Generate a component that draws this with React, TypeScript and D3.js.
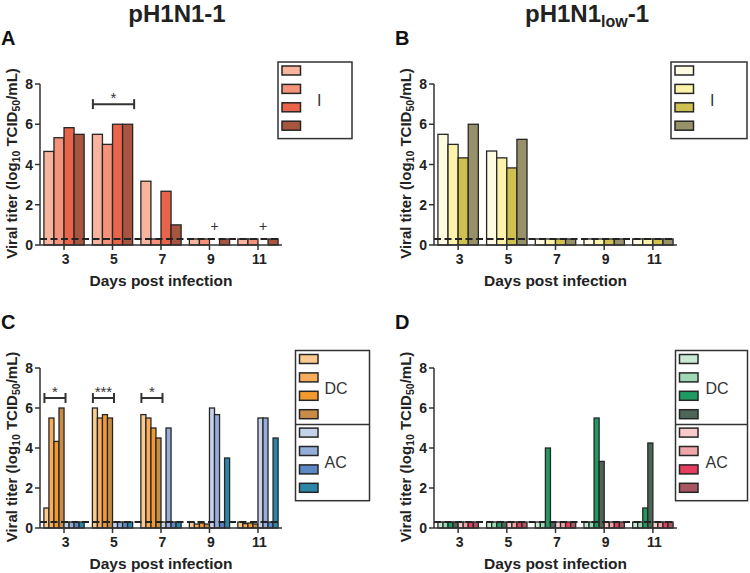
import React from "react";
import * as d3 from "d3";

const FONT = "'Liberation Sans', Arial, Helvetica, sans-serif";

const days = [3, 5, 7, 9, 11];
const yTicks = [0, 2, 4, 6, 8];
const LOD = 0.3;

// A: pH1N1-1, inoculated ferrets (null = no sample)
const aFerret1 = [4.65, 5.5, 3.17, 0.3, 0.3];
const aFerret2 = [5.33, 5.0, 0.3, 0.3, 0.3];
const aFerret3 = [5.83, 6.0, 2.67, null, null];
const aFerret4 = [5.5, 6.0, 1.0, 0.3, 0.3];
const aColors = ["#f8b49c", "#f4937a", "#e8644b", "#a8553f"];

// B: pH1N1low-1, inoculated ferrets
const bFerret1 = [5.5, 4.67, 0.3, 0.3, 0.3];
const bFerret2 = [5.0, 4.33, 0.3, 0.3, 0.3];
const bFerret3 = [4.33, 3.83, 0.3, 0.3, 0.3];
const bFerret4 = [6.0, 5.25, 0.3, 0.3, 0.3];
const bColors = ["#fefbe3", "#fdf3aa", "#cfc150", "#979169"];

// C: pH1N1-1, direct contacts then aerosol contacts
const cDC1 = [1.0, 6.0, 5.67, 0.3, 0.3];
const cDC2 = [5.5, 5.5, 5.5, 0.2, 0.22];
const cDC3 = [4.33, 5.67, 5.0, 0.25, 0.25];
const cDC4 = [6.0, 5.5, 4.5, 0.2, 0.2];
const cAC1 = [0.3, 0.3, 0.3, 6.0, 5.5];
const cAC2 = [0.3, 0.3, 5.0, 5.67, 5.5];
const cAC3 = [0.3, 0.3, 0.3, 0.3, 0.3];
const cAC4 = [0.3, 0.3, 0.3, 3.5, 4.5];
const cColors = ["#fcca8f", "#f9ac5c", "#f39a2e", "#c98b46", "#c6d2ea", "#94aed9", "#5c88c6", "#2b86a7"];

// D: pH1N1low-1, direct contacts then aerosol contacts
const dDC1 = [0.3, 0.3, 0.3, 0.3, 0.3];
const dDC2 = [0.3, 0.3, 0.3, 0.3, 0.3];
const dDC3 = [0.3, 0.3, 4.0, 5.5, 1.0];
const dDC4 = [0.3, 0.3, 0.3, 3.33, 4.25];
const dAC1 = [0.3, 0.3, 0.3, 0.3, 0.3];
const dAC2 = [0.3, 0.3, 0.3, 0.3, 0.3];
const dAC3 = [0.3, 0.3, 0.3, 0.3, 0.3];
const dAC4 = [0.3, 0.3, 0.3, 0.3, 0.3];
const dColors = ["#c8e9d6", "#9fd8b6", "#1f9a60", "#4d6657", "#f8cacb", "#efa5a9", "#e63e5e", "#a65562"];

const aBrackets = [{ day: 5, label: "*" }];
const cBrackets = [
  { day: 3, label: "*" },
  { day: 5, label: "***" },
  { day: 7, label: "*" },
];
const aDeaths = [9, 11];

type Bracket = { day: number; label: string };

const Panel = ({
  left, right, top, bottom, series, colors, letter, brackets = [], bracketY = 7, deaths = [],
}: any) => {
  const x = d3.scaleBand<number>().domain(days).range([left + 1, right - 1]).paddingInner(0.17).paddingOuter(0.06);
  const y = d3.scaleLinear().domain([0, 8]).range([bottom, top]);
  const inner = d3.scaleBand<number>().domain(d3.range(series.length)).range([0, x.bandwidth()]);
  const midY = (top + bottom) / 2 - 1;

  return (
    <g>
      <text x={left - 39} y={top - 39} fontSize={20} fontWeight="bold" fill="#111">{letter}</text>
      {/* bars */}
      {series.map((s: (number | null)[], si: number) =>
        s.map((v, di) =>
          v == null ? null : (
            <rect
              key={`${si}-${di}`}
              x={(x(days[di]) ?? 0) + (inner(si) ?? 0)}
              y={y(v)}
              width={inner.bandwidth()}
              height={y(0) - y(v)}
              fill={colors[si]}
              stroke="#262626"
              strokeWidth={1.3}
            />
          )
        )
      )}
      {/* detection limit */}
      <line x1={left} x2={right - 3} y1={y(LOD)} y2={y(LOD)} stroke="#222" strokeWidth={2} strokeDasharray="7,3.5" />
      {/* axes */}
      <line x1={left} x2={left} y1={top} y2={bottom} stroke="#333" strokeWidth={1.5} />
      <line x1={left} x2={right} y1={bottom} y2={bottom} stroke="#333" strokeWidth={1.5} />
      {yTicks.map((t) => (
        <g key={t}>
          <line x1={left - 5} x2={left} y1={y(t)} y2={y(t)} stroke="#333" strokeWidth={1.5} />
          <text x={left - 7} y={y(t) + 5} textAnchor="end" fontSize={14} fontWeight="bold" fill="#222">{t}</text>
        </g>
      ))}
      {days.map((d) => {
        const cx = (x(d) ?? 0) + x.bandwidth() / 2;
        return (
          <g key={d}>
            <line x1={cx} x2={cx} y1={bottom} y2={bottom + 5} stroke="#333" strokeWidth={1.5} />
            <text x={cx + 1.5} y={bottom + 19} textAnchor="middle" fontSize={14} fontWeight="bold" fill="#222">{d}</text>
          </g>
        );
      })}
      <text x={(left + right) / 2} y={bottom + 41} textAnchor="middle" fontSize={15.5} fontWeight="bold" fill="#222">
        Days post infection
      </text>
      <text
        transform={`translate(${left - 23},${midY}) rotate(-90)`}
        textAnchor="middle"
        fontSize={15}
        fontWeight="bold"
        fill="#222"
      >
        Viral titer (log<tspan fontSize={10.5} dy={3}>10</tspan>
        <tspan dy={-3}> TCID</tspan>
        <tspan fontSize={10.5} dy={3}>50</tspan>
        <tspan dy={-3}>/mL)</tspan>
      </text>
      {/* significance brackets */}
      {brackets.map((b: Bracket) => {
        const x0 = (x(b.day) ?? 0) + (inner(0) ?? 0) + 0.5;
        const x1 = (x(b.day) ?? 0) + (inner(3) ?? 0) + inner.bandwidth() + 1.5;
        const by = y(bracketY);
        return (
          <g key={b.day} stroke="#333" strokeWidth={2}>
            <line x1={x0} x2={x1} y1={by} y2={by} />
            <line x1={x0} x2={x0} y1={by - 5} y2={by + 5} />
            <line x1={x1} x2={x1} y1={by - 5} y2={by + 5} />
            <text x={(x0 + x1) / 2} y={by - 1} textAnchor="middle" fontSize={15} stroke="none" fill="#333">{b.label}</text>
          </g>
        );
      })}
      {deaths.map((d: number) => (
        <text
          key={d}
          x={(x(d) ?? 0) + (inner(2) ?? 0) + inner.bandwidth() / 2}
          y={y(0.95) + 5}
          textAnchor="middle"
          fontSize={14}
          fill="#333"
        >
          +
        </text>
      ))}
    </g>
  );
};

const Legend = ({ x, y, w, colors, groups, labelX }: any) => {
  const step = 18.4;
  const h = colors.length * step + 3;
  return (
    <g>
      <rect x={x} y={y} width={w} height={h} fill="white" stroke="#333" strokeWidth={1.5} />
      {groups.length > 1 && (
        <line x1={x} x2={x + w} y1={y + 4 * step + 0.5} y2={y + 4 * step + 0.5} stroke="#333" strokeWidth={1.5} />
      )}
      {colors.map((c: string, i: number) => (
        <rect key={i} x={x + 4} y={y + 4 + i * step} width={18.5} height={9} fill={c} stroke="#262626" strokeWidth={1.5} />
      ))}
      {groups.map((g: string, gi: number) => (
        <text key={g} x={x + labelX} y={y + gi * 4 * step + 2 * step + 7} fontSize={16} fill="#333">{g}</text>
      ))}
    </g>
  );
};

export default function App() {
  return (
    <div style={{ position: "absolute", left: 0, top: 0 }}>
      <svg width={750} height={573} style={{ display: "block", fontFamily: FONT, background: "white" }}>
        <text x={177} y={22} textAnchor="middle" fontSize={24} fontWeight="bold" fill="#222">pH1N1-1</text>
        <text x={587} y={22} textAnchor="middle" fontSize={24} fontWeight="bold" fill="#222">
          pH1N1<tspan fontSize={16} dy={5}>low</tspan><tspan dy={-5}>-1</tspan>
        </text>
        <Panel left={40} right={282} top={84} bottom={245} letter="A"
          series={[aFerret1, aFerret2, aFerret3, aFerret4]} colors={aColors}
          brackets={aBrackets} bracketY={7} deaths={aDeaths} />
        <Panel left={434} right={677} top={84} bottom={245} letter="B"
          series={[bFerret1, bFerret2, bFerret3, bFerret4]} colors={bColors} />
        <Panel left={40} right={282} top={368} bottom={528} letter="C"
          series={[cDC1, cDC2, cDC3, cDC4, cAC1, cAC2, cAC3, cAC4]} colors={cColors}
          brackets={cBrackets} bracketY={6.5} />
        <Panel left={434} right={677} top={368} bottom={528} letter="D"
          series={[dDC1, dDC2, dDC3, dDC4, dAC1, dAC2, dAC3, dAC4]} colors={dColors} />
        <Legend x={278} y={62} w={74} colors={aColors} groups={["I"]} labelX={39} />
        <Legend x={671} y={62} w={76} colors={bColors} groups={["I"]} labelX={39} />
        <Legend x={295.5} y={350.5} w={74} colors={cColors} groups={["DC", "AC"]} labelX={29} />
        <Legend x={675.5} y={350.5} w={72} colors={dColors} groups={["DC", "AC"]} labelX={30} />
      </svg>
    </div>
  );
}
